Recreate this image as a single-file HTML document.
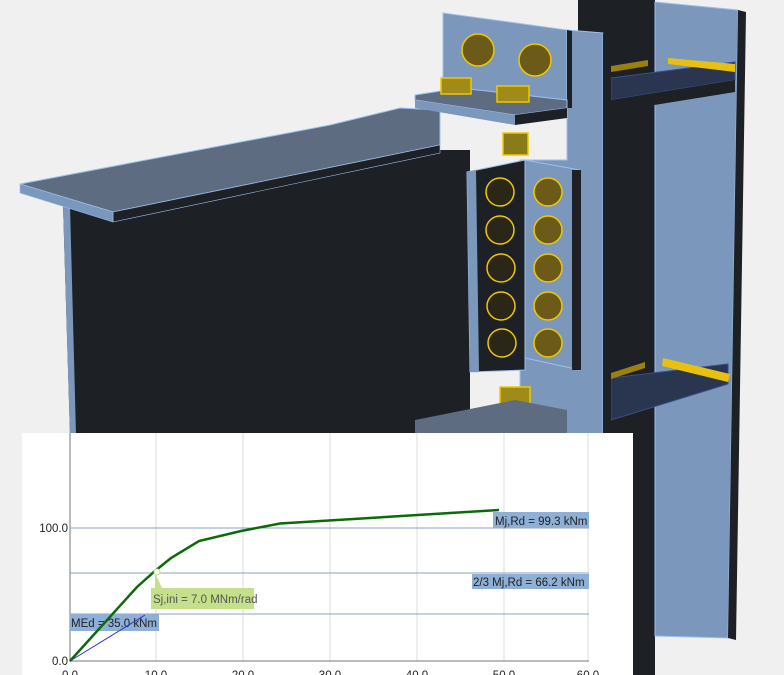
<!DOCTYPE html>
<html><head><style>
html,body{margin:0;padding:0;background:#f0f0f0;width:784px;height:675px;overflow:hidden}
svg{display:block}
text{font-family:"Liberation Sans",sans-serif;font-size:11.5px;fill:#222}
</style></head><body>
<svg width="784" height="675" viewBox="0 0 784 675">
<rect width="784" height="675" fill="#f0f0f0"/>
<!-- column back -->
<polygon points="578,0 655,0 655,675 578,675" fill="#1d2024"/>
<polygon points="655,2 738,10 728,638 655,636" fill="#7b98bc" stroke="#9cc0ee" stroke-width="1"/>
<polygon points="738,10 746,12 736,640 728,638" fill="#1d2024"/>
<!-- stiffeners -->
<polygon points="611,78 735,62 735,80 611,100" fill="#2a3550" stroke="#3a5088"/>
<polygon points="611,100 735,80 735,92 611,112" fill="#1d2024"/>
<polygon points="668,58 735,64 735,72 668,64" fill="#e8c010"/>
<polygon points="611,66 648,60 648,66 611,72" fill="#9a8010"/>
<polygon points="611,378 728,364 728,384 611,420" fill="#2a3550" stroke="#3a5088"/>
<polygon points="663,358 730,374 728,382 662,366" fill="#e8c010"/>
<polygon points="611,373 645,362 645,368 611,379" fill="#9a8010"/>
<!-- column front flange -->
<polygon points="520,160 567,160 567,30 603,33 603,675 520,675" fill="#7b98bc" stroke="#9cc0ee"/>
<polygon points="603,33 611,34 611,675 603,675" fill="#1d2024"/>
<!-- beam web -->
<polygon points="63,205 440,150 470,150 470,435 70,435" fill="#1d2024"/>
<polygon points="63,205 70,205 76,435 70,435" fill="#7b98bc"/>
<!-- beam top flange -->
<polygon points="20,184 330,125 400,108 440,110 440,145 113,212" fill="#5d6c80" stroke="#9cc0ee"/>
<polygon points="113,212 440,145 440,153 113,222" fill="#1d2024" stroke="#9cc0ee" stroke-width="0.6"/>
<polygon points="20,184 113,212 113,222 20,193" fill="#7b98bc" stroke="#9cc0ee" stroke-width="0.6"/>
<!-- top end plate -->
<polygon points="443,13 567,30 567,108 443,95" fill="#7b98bc" stroke="#9cc0ee"/>
<polygon points="567,30 572,31 572,108 567,108" fill="#1d2024"/>
<!-- top angle leg -->
<polygon points="415,95 460,88 567,100 567,108 515,115 415,100" fill="#5d6c80" stroke="#9cc0ee"/>
<polygon points="515,115 567,108 567,118 515,125" fill="#1d2024"/>
<polygon points="415,100 515,115 515,125 415,108" fill="#7b98bc"/>
<!-- top bolts -->
<g fill="#6b5a18" stroke="#f0c800" stroke-width="1.5">
<circle cx="478" cy="50" r="16"/><circle cx="535" cy="60" r="16"/>
<rect x="441" y="78" width="30" height="16" fill="#a08a18"/>
<rect x="497" y="86" width="32" height="16" fill="#a08a18"/>
<rect x="503" y="133" width="25" height="22" fill="#8a7a18"/>
<rect x="500" y="387" width="30" height="28" fill="#a08a18"/>
</g>
<!-- fin plates -->
<polygon points="467,172 525,160 525,370 470,372" fill="#1d2024" stroke="#9cc0ee"/>
<polygon points="467,172 476,170 479,372 470,372" fill="#7b98bc"/>
<polygon points="525,160 580,170 580,370 525,358" fill="#7b98bc" stroke="#9cc0ee"/>
<polygon points="572,170 581,170 581,370 572,370" fill="#1d2024"/>
<g fill="#2a2718" stroke="#f0c800" stroke-width="1.5">
<circle cx="500" cy="192" r="14"/><circle cx="500" cy="230" r="14"/><circle cx="501" cy="268" r="14"/><circle cx="501" cy="306" r="14"/><circle cx="502" cy="343" r="14"/>
</g>
<g fill="#6b5a18" stroke="#f0c800" stroke-width="1.5">
<circle cx="548" cy="192" r="14"/><circle cx="548" cy="230" r="14"/><circle cx="548" cy="268" r="14"/><circle cx="548" cy="306" r="14"/><circle cx="548" cy="343" r="14"/>
</g>
<!-- bottom angle -->
<polygon points="415,420 515,400 567,410 567,435 415,435" fill="#5d6c80"/>
<!-- chart -->
<rect x="22" y="433" width="611" height="242" fill="#ffffff"/>
<g stroke="#dcdcdc" stroke-width="1">
<line x1="156" y1="433" x2="156" y2="661"/><line x1="243" y1="433" x2="243" y2="661"/><line x1="330" y1="433" x2="330" y2="661"/><line x1="417" y1="433" x2="417" y2="661"/><line x1="504" y1="433" x2="504" y2="661"/><line x1="588" y1="433" x2="588" y2="661"/>
</g>
<line x1="70" y1="433" x2="70" y2="662" stroke="#777"/>
<line x1="70" y1="661" x2="589" y2="661" stroke="#777"/>
<line x1="70" y1="528" x2="589" y2="528" stroke="#8aa3c0"/>
<line x1="70" y1="573" x2="589" y2="573" stroke="#8aa3c0"/>
<line x1="70" y1="614" x2="589" y2="614" stroke="#8aa3c0"/>
<rect x="493" y="512" width="96" height="16" fill="#8fb0d6"/>
<text x="495" y="525">Mj,Rd = 99.3 kNm</text>
<rect x="472" y="574" width="117" height="15" fill="#8fb0d6"/>
<text x="473" y="586">2/3 Mj,Rd = 66.2 kNm</text>
<rect x="70" y="614" width="89" height="17" fill="#8fb0d6"/>
<text x="71" y="627">MEd = 35.0 kNm</text>
<polygon points="151,588 254,588 254,609 151,609" fill="#c5e08a"/>
<polygon points="155,573 162,588 155,588" fill="#c5e08a"/>
<text x="153" y="603" style="fill:#555">Sj,ini = 7.0 MNm/rad</text>
<line x1="70" y1="661" x2="145" y2="615" stroke="#2030e0" stroke-width="1"/>
<polyline points="70,661 137,587 155,571 171,558 199,541 241,531 280,523.5 499,510" fill="none" stroke="#0b6b0b" stroke-width="2.5"/>
<circle cx="157" cy="572" r="3" fill="#fff" stroke="#c5e08a"/>
<text x="68" y="532" text-anchor="end">100.0</text>
<text x="68" y="665" text-anchor="end">0.0</text>
<g text-anchor="middle">
<text x="70" y="679">0.0</text><text x="156" y="679">10.0</text><text x="243" y="679">20.0</text><text x="330" y="679">30.0</text><text x="417" y="679">40.0</text><text x="504" y="679">50.0</text><text x="588" y="679">60.0</text>
</g>
</svg>
</body></html>
